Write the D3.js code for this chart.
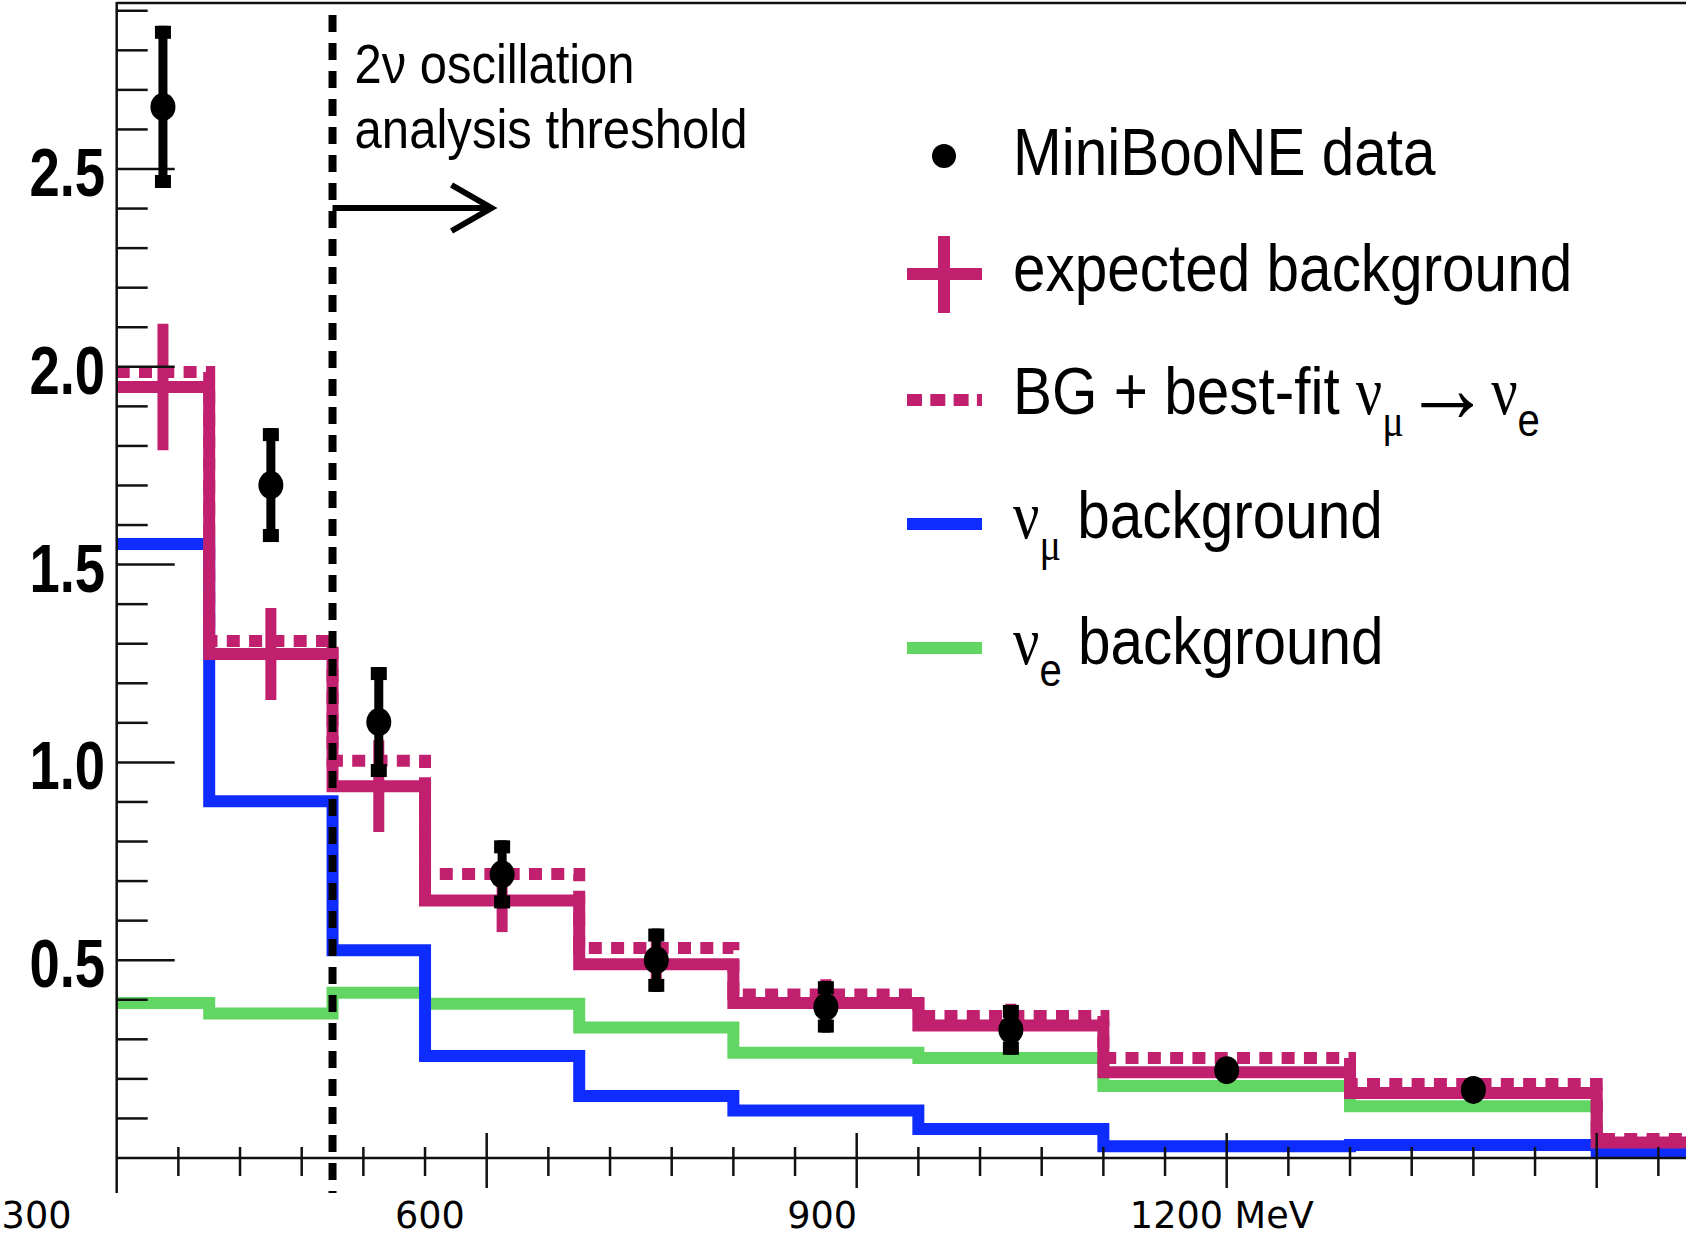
<!DOCTYPE html>
<html>
<head>
<meta charset="utf-8">
<script src="https://cdn.jsdelivr.net/npm/d3@7"></script>
<style>
  body { margin: 0; background: #fff; }
  svg { display: block; }
</style>
</head>
<body>
<div id="chart"></div>
<script>
// bin edges in MeV (the last bin runs off the right edge)
const binEdges = [300, 375, 475, 550, 675, 800, 950, 1100, 1300, 1500, 3000];
const expectedBg = [1.949, 1.274, 0.940, 0.651, 0.490, 0.392, 0.335, 0.217, 0.164, 0.039];
const expectedErr = [0.16, 0.116, 0.116, 0.08, 0.07, 0.06, 0.055, 0.02, 0.02, 0.01];
const bestFit = [1.987, 1.307, 1.004, 0.718, 0.531, 0.413, 0.359, 0.253, 0.187, 0.048];
const numuBg = [1.552, 0.902, 0.525, 0.258, 0.157, 0.120, 0.073, 0.030, 0.033, 0.018];
const nueBg = [0.392, 0.365, 0.418, 0.390, 0.330, 0.266, 0.253, 0.182, 0.131, 0.030];
const dataVal = [2.657, 1.701, 1.102, 0.717, 0.500, 0.382, 0.324, 0.222, 0.172];
const dataErr = [0.205, 0.144, 0.139, 0.086, 0.080, 0.065, 0.063, 0, 0];
const thresholdMeV = 475;
const yTickLabels = [0.5, 1.0, 1.5, 2.0, 2.5];
const xLabels = ['300', '600', '900', '1200 MeV'];
const xLabelAt = [235, 554, 872, 1196]; // where the hand-written labels sit (MeV)

function minibooneplot() {
  const W = 1686, H = 1236;
  const magenta = '#c1206f', blue = '#0f2cff', green = '#62d663';

  const x = d3.scaleLinear().domain([300, 1500]).range([116.7, 1596.7]);
  const y = d3.scaleLinear().domain([0, 2.5]).range([1158, 169]);

  const svg = d3.select('#chart').append('svg')
    .attr('width', W).attr('height', H)
    .style('background', '#fff');

  const centers = d3.range(binEdges.length - 1).map(i => (binEdges[i] + binEdges[i + 1]) / 2);

  function stepPoints(vals) {
    const pts = [];
    vals.forEach((v, i) => {
      pts.push([binEdges[i], v]);
      pts.push([binEdges[i + 1], v]);
    });
    return pts;
  }
  const line = d3.line().x(d => x(d[0])).y(d => y(d[1]));

  // histograms
  const hist = [
    { vals: nueBg, col: green, dash: null },
    { vals: numuBg, col: blue, dash: null },
    { vals: expectedBg, col: magenta, dash: null },
    { vals: bestFit, col: magenta, dash: '13 9.3' }
  ];
  hist.forEach(h => {
    svg.append('path')
      .attr('d', line(stepPoints(h.vals)))
      .attr('fill', 'none')
      .attr('stroke', h.col)
      .attr('stroke-width', 12)
      .attr('stroke-linejoin', 'miter')
      .attr('stroke-dasharray', h.dash);
  });

  // expected background error bars
  svg.selectAll('.bgerr')
    .data(expectedBg)
    .enter()
    .append('line')
    .attr('x1', (d, i) => x(centers[i]))
    .attr('x2', (d, i) => x(centers[i]))
    .attr('y1', (d, i) => y(d + expectedErr[i]))
    .attr('y2', (d, i) => y(d - expectedErr[i]))
    .attr('stroke', magenta)
    .attr('stroke-width', 11);

  // axes frame
  const axisCol = '#111';
  svg.append('line')
    .attr('x1', x(300)).attr('x2', W).attr('y1', 3).attr('y2', 3)
    .attr('stroke', axisCol).attr('stroke-width', 2.5);
  svg.append('line')
    .attr('x1', x(300)).attr('x2', x(300)).attr('y1', 2).attr('y2', 1193)
    .attr('stroke', axisCol).attr('stroke-width', 2.5);
  svg.append('line')
    .attr('x1', x(300)).attr('x2', W).attr('y1', y(0)).attr('y2', y(0))
    .attr('stroke', axisCol).attr('stroke-width', 2.5);

  // y ticks (inside, every 0.1)
  const yTicks = d3.range(1, 30).map(i => i / 10);
  svg.selectAll('.ytick')
    .data(yTicks)
    .enter()
    .append('line')
    .attr('x1', x(300))
    .attr('x2', (d, i) => x(300) + ((i + 1) % 5 === 0 ? 58 : 31))
    .attr('y1', d => y(d)).attr('y2', d => y(d))
    .attr('stroke', axisCol).attr('stroke-width', 2.5);

  // x ticks (every 50 MeV, crossing the axis)
  const xTicks = d3.range(350, 1600, 50);
  svg.selectAll('.xtick')
    .data(xTicks)
    .enter()
    .append('line')
    .attr('x1', d => x(d)).attr('x2', d => x(d))
    .attr('y1', d => y(0) - (d % 300 === 0 ? 25 : 11))
    .attr('y2', d => y(0) + (d % 300 === 0 ? 30 : 18))
    .attr('stroke', axisCol).attr('stroke-width', 2.5);

  // y tick labels
  svg.selectAll('.ylab')
    .data(yTickLabels)
    .enter()
    .append('g')
    .attr('transform', d => `translate(105,${y(d) + 27}) scale(0.8,1)`)
    .append('text')
    .attr('text-anchor', 'end')
    .style('font-family', '"Liberation Sans", Arial, sans-serif')
    .style('font-weight', 'bold')
    .style('font-size', '68px')
    .attr('fill', '#000')
    .text(d => d.toFixed(1));

  // x labels (hand-written annotation)
  svg.selectAll('.xlab')
    .data(xLabels)
    .enter()
    .append('text')
    .attr('x', (d, i) => x(xLabelAt[i]))
    .attr('y', 1228)
    .attr('text-anchor', 'middle')
    .style('font-family', '"DejaVu Sans", sans-serif')
    .style('font-size', '36.6px')
    .attr('fill', '#000')
    .text(d => d);

  // threshold line
  const xt = x(thresholdMeV);
  svg.append('line')
    .attr('x1', xt).attr('x2', xt).attr('y1', 15).attr('y2', 1193)
    .attr('stroke', '#000').attr('stroke-width', 8)
    .attr('stroke-dasharray', '17 11');

  // arrow
  svg.append('path')
    .attr('d', `M${xt},208 H${xt + 158} M${xt + 119},185 L${xt + 159},208 L${xt + 119},231`)
    .attr('fill', 'none').attr('stroke', '#000').attr('stroke-width', 6);

  // annotation text
  const annot = [['2ν oscillation', 83, 280], ['analysis threshold', 148, 393]];
  annot.forEach(a => {
    svg.append('text')
      .attr('x', xt + 22).attr('y', a[1])
      .attr('textLength', a[2]).attr('lengthAdjust', 'spacingAndGlyphs')
      .style('font-family', '"Liberation Sans", Arial, sans-serif')
      .style('font-size', '55px')
      .attr('fill', '#000')
      .text(a[0]);
  });

  // data points
  const pts = svg.append('g');
  dataVal.forEach((v, i) => {
    const cx = x(centers[i]);
    const e = dataErr[i];
    if (e > 0) {
      pts.append('line')
        .attr('x1', cx).attr('x2', cx).attr('y1', y(v + e)).attr('y2', y(v - e))
        .attr('stroke', '#000').attr('stroke-width', 9);
      pts.append('rect')
        .attr('x', cx - 8).attr('y', y(v + e)).attr('width', 16).attr('height', 13)
        .attr('fill', '#000');
      pts.append('rect')
        .attr('x', cx - 8).attr('y', y(v - e) - 13).attr('width', 16).attr('height', 13)
        .attr('fill', '#000');
    }
    pts.append('ellipse')
      .attr('cx', cx).attr('cy', y(v)).attr('rx', 12.5).attr('ry', 14)
      .attr('fill', '#000');
  });

  // legend
  const legend = svg.append('g');
  const lx1 = 907, lx2 = 982, lcx = 944;
  legend.append('circle').attr('cx', lcx).attr('cy', 156).attr('r', 12).attr('fill', '#000');
  legend.append('line').attr('x1', lx1).attr('x2', lx2).attr('y1', 274).attr('y2', 274)
    .attr('stroke', magenta).attr('stroke-width', 12);
  legend.append('line').attr('x1', lcx).attr('x2', lcx).attr('y1', 236).attr('y2', 313)
    .attr('stroke', magenta).attr('stroke-width', 12);
  legend.append('line').attr('x1', lx1).attr('x2', lx2).attr('y1', 400).attr('y2', 400)
    .attr('stroke', magenta).attr('stroke-width', 12).attr('stroke-dasharray', '15 8.3');
  legend.append('line').attr('x1', lx1).attr('x2', lx2).attr('y1', 524).attr('y2', 524)
    .attr('stroke', blue).attr('stroke-width', 12);
  legend.append('line').attr('x1', lx1).attr('x2', lx2).attr('y1', 648).attr('y2', 648)
    .attr('stroke', green).attr('stroke-width', 12);

  const serif = '"Liberation Serif", "Times New Roman", serif';
  const sans = '"Liberation Sans", Arial, sans-serif';
  const legendRows = [
    { y: 175, parts: [['MiniBooNE data']] },
    { y: 291, parts: [['expected background']] },
    { y: 414, parts: [['BG + best-fit '], ['ν', serif], ['μ', serif, 22, 46], ['→', serif, -14, 100], ['ν', serif, -8], ['e', null, 22, 46]] },
    { y: 538, parts: [['ν', serif], ['μ', serif, 22, 46], [' background', null, -22]] },
    { y: 664, parts: [['ν', serif], ['e', null, 22, 46], [' background', null, -22]] }
  ];
  legendRows.forEach(r => {
    const t = legend.append('g')
      .attr('transform', `translate(1013,${r.y}) scale(0.873,1)`)
      .append('text')
      .style('font-family', sans)
      .style('font-size', '67px')
      .attr('fill', '#000');
    r.parts.forEach(p => {
      const s = t.append('tspan').text(p[0]);
      if (p[1]) s.style('font-family', p[1]);
      if (p[2]) s.attr('dy', p[2]);
      if (p[3]) s.style('font-size', p[3] + 'px');
    });
  });
}

window.onload = function () {
  minibooneplot();
};
</script>
</body>
</html>
